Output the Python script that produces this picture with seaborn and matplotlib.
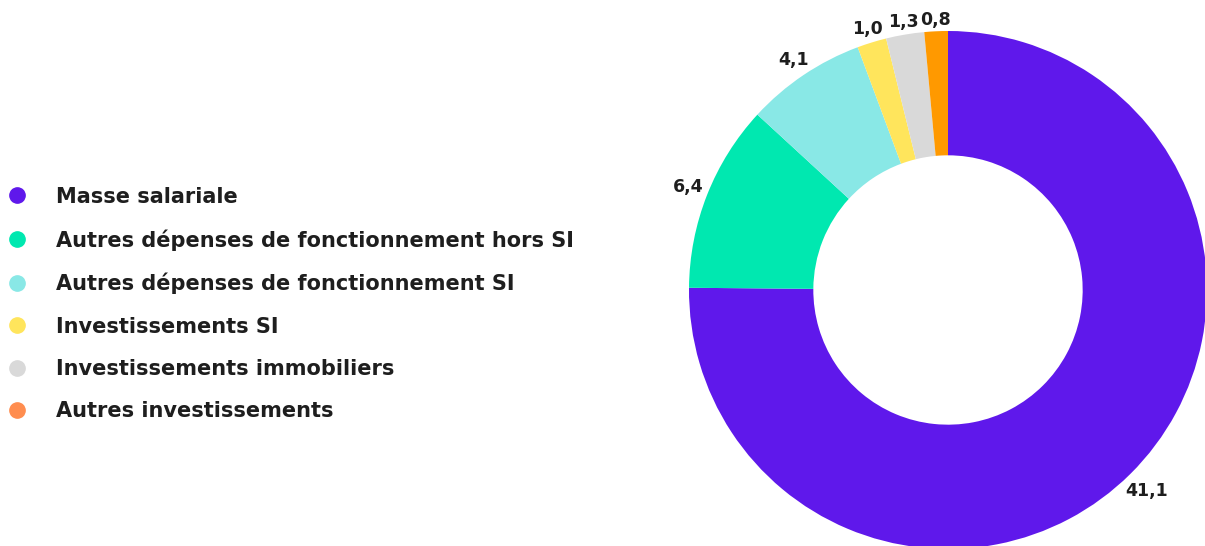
import numpy as np
import matplotlib
matplotlib.use("Agg")
import matplotlib.pyplot as plt
from matplotlib.lines import Line2D
import seaborn as sns

categories = ["Masse salariale",
              "Autres dépenses de fonctionnement hors SI",
              "Autres dépenses de fonctionnement SI",
              "Investissements SI",
              "Investissements immobiliers",
              "Autres investissements"]
values = [41.1, 6.4, 4.1, 1.0, 1.3, 0.8]
value_labels = ["41,1", "6,4", "4,1", "1,0", "1,3", "0,8"]
slice_colors = ["#5F18EB", "#00E8B0", "#89E8E6", "#FFE55C", "#D9D9D9", "#FF9900"]
legend_colors = ["#5F18EB", "#00E8B0", "#89E8E6", "#FFE55C", "#D9D9D9", "#FF8D4F"]

sns.set_theme(style="white")
plt.rcParams["font.family"] = ["DejaVu Sans"]

W, H = 1205, 546
fig = plt.figure(figsize=(W / 100, H / 100), dpi=100)
fig.patch.set_facecolor("white")

# donut axes: centre (948, 290) px, radius 259 px
cx, cy, R = 948, 290, 259
ax = fig.add_axes([(cx - R) / W, (H - cy - R) / H, 2 * R / W, 2 * R / H])
ax.set_axis_off()
wedges, _ = ax.pie(values, colors=slice_colors, startangle=90, counterclock=False,
                   wedgeprops=dict(width=0.48, linewidth=0, edgecolor="white"),
                   radius=1.0)
ax.set_xlim(-1, 1)
ax.set_ylim(-1, 1)

fig.canvas.draw()
renderer = fig.canvas.get_renderer()
total = float(np.sum(values))
cum = np.cumsum(values) - np.array(values) / 2.0
pad_px = 4.0
for lab, c in zip(value_labels, cum):
    ang = np.deg2rad(90 - c / total * 360)
    t = ax.text(0, 0, lab, ha="center", va="center", fontsize=12.5,
                fontweight="bold", color="#1e1e1e", clip_on=False)
    bb = t.get_window_extent(renderer)
    ext = abs(np.cos(ang)) * bb.width / 2 + abs(np.sin(ang)) * bb.height * 0.35
    r = 1.0 + (pad_px + ext) / R
    t.set_position((r * np.cos(ang), r * np.sin(ang)))

handles = [Line2D([0], [0], marker="o", linestyle="none", markersize=11,
                  markerfacecolor=c, markeredgecolor=c) for c in legend_colors]
leg = fig.legend(handles, categories, loc="center left",
                 bbox_to_anchor=(0.0, (H - 304) / H), frameon=False,
                 fontsize=15, handlelength=1.0, handletextpad=1.4,
                 labelspacing=1.07, borderaxespad=0.0, borderpad=0.3)
for t in leg.get_texts():
    t.set_fontweight("bold")
    t.set_color("#1e1e1e")

fig.savefig("out.png", dpi=100)
